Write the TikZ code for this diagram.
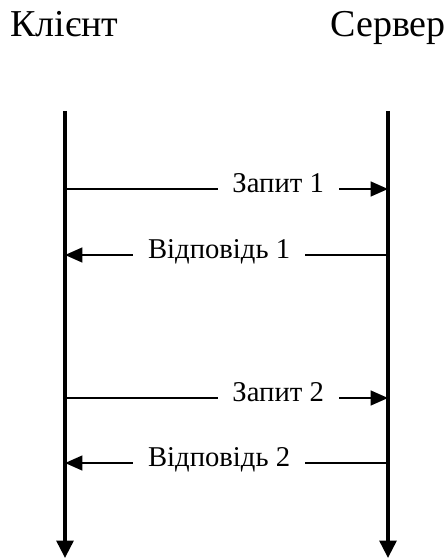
\documentclass[tikz,border=0pt]{standalone}
\usepackage{fontspec}
\setmainfont{Liberation Serif}
\usetikzlibrary{arrows.meta,positioning}

\begin{document}
\begin{tikzpicture}[
    x=0.75pt, y=-0.75pt,
    party/.style={font=\fontsize{28.5}{32}\selectfont, inner sep=0pt, anchor=base},
    lifeline/.style={line width=2.7pt, -{Triangle[length=13pt,width=12.5pt]}},
    msg/.style={line width=1.7pt, -{Triangle[length=13pt,width=11pt]}},
    msglabel/.style={font=\fontsize{21.5}{24}\selectfont, fill=white, inner xsep=11pt,
        inner ysep=2pt, anchor=base, yshift=-2.5pt}
]
    \useasboundingbox (0,0) rectangle (446,559);

    \node[party] (client) at (64.5,37) {Клієнт};
    \node[party] (server) at (388,37) {Сервер};

    % lifelines
    \coordinate (ctop) at (65,111);
    \coordinate (cbot) at (65,558);
    \coordinate (stop) at (388,111);
    \coordinate (sbot) at (388,558);
    \draw[lifeline] (ctop) -- (cbot);
    \draw[lifeline] (stop) -- (sbot);

    % message ends on both lifelines
    \coordinate (c1) at (65,189);  \coordinate (s1) at (388,189);
    \coordinate (c2) at (65,255);  \coordinate (s2) at (388,255);
    \coordinate (c3) at (65,398);  \coordinate (s3) at (388,398);
    \coordinate (c4) at (65,463);  \coordinate (s4) at (388,463);

    \draw[msg] (c1) -- node[msglabel, pos=0.66] {Запит 1} (s1);
    \draw[msg] (s2) -- node[msglabel, pos=0.523] {Відповідь 1} (c2);
    \draw[msg] (c3) -- node[msglabel, pos=0.66] {Запит 2} (s3);
    \draw[msg] (s4) -- node[msglabel, pos=0.523] {Відповідь 2} (c4);
\end{tikzpicture}
\end{document}
